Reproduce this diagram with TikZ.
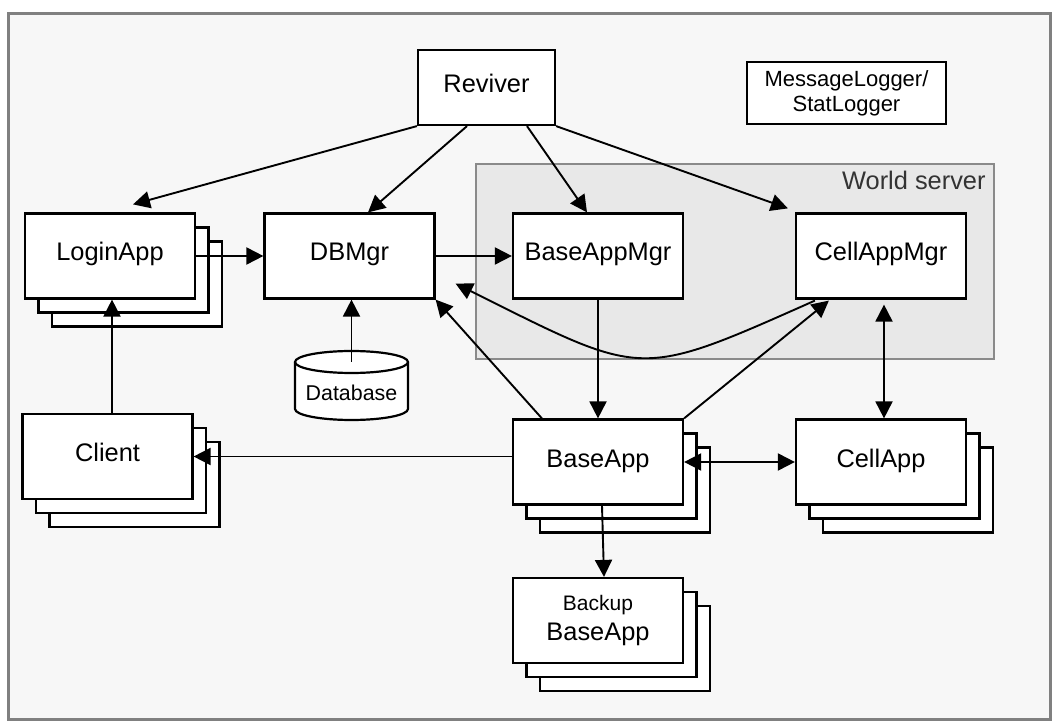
\documentclass[tikz,border=0pt]{standalone}
\usepackage{fontspec}
\setmainfont{Liberation Sans}
\usetikzlibrary{shadows,arrows.meta,calc}
\definecolor{bgc}{HTML}{F7F7F7}
\definecolor{wsfill}{HTML}{E8E8E8}
\definecolor{wsdraw}{HTML}{8A8A8A}
\definecolor{framec}{HTML}{808080}
\definecolor{wstext}{HTML}{333333}
\begin{document}
\begin{tikzpicture}[x=0.5pt,y=-0.5pt,
  box/.style={draw=black, line width=1.1pt, fill=white, inner sep=0pt,
    minimum width=85pt, minimum height=42.5pt, font=\fontsize{12.7}{15}\selectfont},
  lbl/.style={text height=0.75em, text depth=0.25em},
  stackbox/.style={box, double copy shadow={shadow xshift=6.75pt, shadow yshift=-7pt, line width=1.1pt}},
  conn/.style={line width=0.95pt, -{Triangle[length=8.5pt,width=8.5pt]}},
  dconn/.style={line width=0.95pt, {Triangle[length=8.5pt,width=8.5pt]}-{Triangle[length=8.5pt,width=8.5pt]}},
]
\useasboundingbox (0,0) rectangle (1061,727);
\fill[white] (0,0) rectangle (1061,727);
% outer frame
\draw[framec, fill=bgc, line width=1.5pt] (8,14) rectangle (1050,719);
% world server
\draw[wsdraw, fill=wsfill, line width=1pt] (476,164) rectangle (994,359);
\node[anchor=east, text=wstext, font=\fontsize{12.7}{15}\selectfont, inner sep=0pt] (wslabel) at (986,180) {World server};

% nodes
\node[box, lbl, minimum width=68.5pt, minimum height=37.5pt] (reviver) at (486.5,87.5) {Reviver};
\node[box, align=center, minimum width=99.5pt, minimum height=31pt, font=\fontsize{11}{12.5}\selectfont] (logger) at (846.5,93) {MessageLogger/\\StatLogger};
\node[stackbox, lbl] (login) at (110,256) {LoginApp};
\node[box, lbl] (dbmgr) at (349.5,256) {DBMgr};
\node[box, lbl] (bamgr) at (598,256) {BaseAppMgr};
\node[box, lbl] (camgr) at (881,256) {CellAppMgr};
\node[stackbox, lbl] (client) at (107.5,456.5) {Client};
\node[stackbox, lbl] (baseapp) at (598,462) {BaseApp};
\node[stackbox, lbl] (cellapp) at (881,462) {CellApp};
\node[stackbox, align=center, minimum height=42.5pt] (backup) at (598,620.5) {{\fontsize{10.5}{12}\selectfont Backup}\\BaseApp};

% database cylinder
\draw[line width=1.1pt, fill=white] (295,362) -- (295,409) arc[start angle=180, end angle=360, x radius=28.25pt, y radius=5.5pt] -- (408,362);
\draw[line width=1.1pt, fill=white] (351.5,362) ellipse[x radius=28.25pt, y radius=5.5pt];
\node[font=\fontsize{10.7}{12.5}\selectfont, inner sep=0pt] (db) at (351.5,393) {Database};
\coordinate (dbtop) at (351.5,362);
\coordinate (clienttop) at (112,414);

% connectors
\draw[conn] (reviver.south west) -- ($(login.north)+(23,-8)$);
\draw[conn] ($(reviver.south)+(-19.5,0)$) -- ($(dbmgr.north)+(18.5,0)$);
\draw[conn] ($(reviver.south)+(40.5,0)$) -- ($(bamgr.north)+(-11,0)$);
\draw[conn] (reviver.south east) -- ($(camgr.north west)+(-7,-4)$);

\draw[conn] (login.east) -- (dbmgr.west);
\draw[conn] (dbmgr.east) -- (bamgr.west);
\draw[conn] (dbtop) -- (dbtop |- dbmgr.south);
\draw[conn] (clienttop) -- (clienttop |- login.south);
\draw[conn] (client.east -| baseapp.west) -- (client.east);
\draw[conn] (bamgr.south) -- (baseapp.north);
\draw[conn] ($(baseapp.north west)+(30,0)$) -- (dbmgr.south east);
\draw[conn] (baseapp.north east) -- ($(camgr.south west)+(34,1)$);
\draw[conn] ($(camgr.south west)+(20,1)$) .. controls (636,380) and (645,378) .. ($(dbmgr.south east)+(20,-16)$);
\draw[dconn] ($(camgr.south)+(3,5)$) -- ($(cellapp.north)+(3,0)$);
\draw[dconn] (baseapp.east) -- (cellapp.west);
\draw[conn] ($(baseapp.south)+(4,0)$) -- ($(backup.north)+(6,0)$);
\end{tikzpicture}
\end{document}
